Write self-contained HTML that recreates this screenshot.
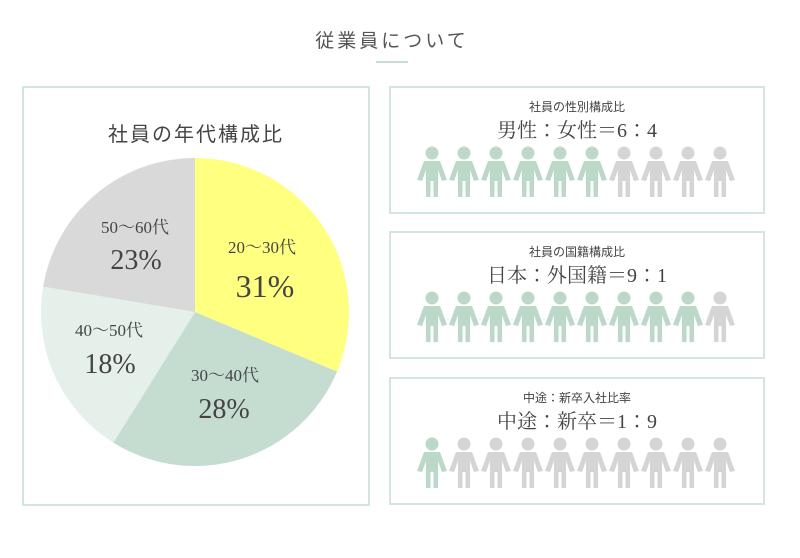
<!DOCTYPE html>
<html><head><meta charset="utf-8"><style>
body{margin:0;width:800px;height:558px;background:#fff;font-family:"Liberation Serif","Noto Serif CJK SC",serif;color:#444;position:relative;overflow:hidden}
.box{position:absolute;border:2px solid #d3e6dd;box-sizing:border-box}
.t{position:absolute;width:100%;text-align:center;font-family:"Liberation Sans","Noto Sans CJK JP",sans-serif}
</style></head><body>
<div class="t" style="top:26px;left:-8px;font-size:19px;letter-spacing:3px;color:#555">従業員について</div>
<div style="position:absolute;left:376px;top:61px;width:32px;height:2px;background:#c8ddd2"></div>

<div class="box" style="left:22px;top:86px;width:348px;height:420px"></div>
<div class="t" style="left:22px;width:348px;top:118px;font-size:20px;letter-spacing:2px;color:#444">社員の年代構成比</div>
<svg style="position:absolute;left:0;top:0" width="800" height="558">
<defs>
<g id="p">
<circle cx="14" cy="6" r="6"/>
<path d="M6,14 H22 L28,32 L24,33 L20,22 V48 H15 V32 H13 V48 H8 V22 L4,33 L0,32 Z"/>
</g>
</defs>
<g transform="translate(195,312)">
<path d="M0,0 L0,-154 A154,154 0 0,1 142.0,59.6 Z" fill="#ffff80"/>
<path d="M0,0 L142.0,59.6 A154,154 0 0,1 -81.7,130.6 Z" fill="#c5ddd0"/>
<path d="M0,0 L-81.7,130.6 A154,154 0 0,1 -151.9,-25.4 Z" fill="#e5f0eb"/>
<path d="M0,0 L-151.9,-25.4 A154,154 0 0,1 0,-154 Z" fill="#d9d9d9"/>
</g>
<g font-family="Liberation Serif,Noto Serif CJK JP,serif" fill="#444" text-anchor="middle">
<text x="262" y="253" font-size="17">20～30代</text>
<text x="265" y="297" font-size="32">31%</text>
<text x="225" y="381" font-size="17">30～40代</text>
<text x="224" y="418" font-size="28">28%</text>
<text x="109" y="336" font-size="17">40～50代</text>
<text x="110" y="373" font-size="28">18%</text>
<text x="135" y="233" font-size="17">50～60代</text>
<text x="136" y="269" font-size="28">23%</text>
</g>
<g id="r1"></g>
</svg>

<div class="box" style="left:389px;top:86px;width:376px;height:128px"></div>
<div class="t" style="left:389px;width:376px;top:98px;font-size:12px">社員の性別構成比</div>
<div class="t" style="left:389px;width:376px;top:114px;font-size:20px;font-family:'Liberation Serif','Noto Serif CJK JP',serif">男性：女性＝6：4</div>

<div class="box" style="left:389px;top:231px;width:376px;height:128px"></div>
<div class="t" style="left:389px;width:376px;top:243px;font-size:12px">社員の国籍構成比</div>
<div class="t" style="left:389px;width:376px;top:259px;font-size:20px;font-family:'Liberation Serif','Noto Serif CJK JP',serif">日本：外国籍＝9：1</div>

<div class="box" style="left:389px;top:377px;width:376px;height:128px"></div>
<div class="t" style="left:389px;width:376px;top:389px;font-size:12px">中途：新卒入社比率</div>
<div class="t" style="left:389px;width:376px;top:405px;font-size:20px;font-family:'Liberation Serif','Noto Serif CJK JP',serif">中途：新卒＝1：9</div>

<svg style="position:absolute;left:0;top:0" width="800" height="558">
<defs>
<g id="q">
<circle cx="14" cy="6" r="6.5"/>
<path d="M6,14 H22 L29,33 L24,34 L20,23 V50 H15.5 V34 H12.5 V50 H8 V23 L4,34 L-1,33 Z"/>
</g>
</defs>
<g fill="#bcd8c9">
<use href="#q" x="418" y="147"/><use href="#q" x="450" y="147"/><use href="#q" x="482" y="147"/><use href="#q" x="514" y="147"/><use href="#q" x="546" y="147"/><use href="#q" x="578" y="147"/>
</g>
<g fill="#d5d5d5">
<use href="#q" x="610" y="147"/><use href="#q" x="642" y="147"/><use href="#q" x="674" y="147"/><use href="#q" x="706" y="147"/>
</g>
<g fill="#bcd8c9">
<use href="#q" x="418" y="292"/><use href="#q" x="450" y="292"/><use href="#q" x="482" y="292"/><use href="#q" x="514" y="292"/><use href="#q" x="546" y="292"/><use href="#q" x="578" y="292"/><use href="#q" x="610" y="292"/><use href="#q" x="642" y="292"/><use href="#q" x="674" y="292"/>
</g>
<g fill="#d5d5d5"><use href="#q" x="706" y="292"/></g>
<g fill="#bcd8c9"><use href="#q" x="418" y="438"/></g>
<g fill="#d5d5d5">
<use href="#q" x="450" y="438"/><use href="#q" x="482" y="438"/><use href="#q" x="514" y="438"/><use href="#q" x="546" y="438"/><use href="#q" x="578" y="438"/><use href="#q" x="610" y="438"/><use href="#q" x="642" y="438"/><use href="#q" x="674" y="438"/><use href="#q" x="706" y="438"/>
</g>
</svg>
</body></html>
